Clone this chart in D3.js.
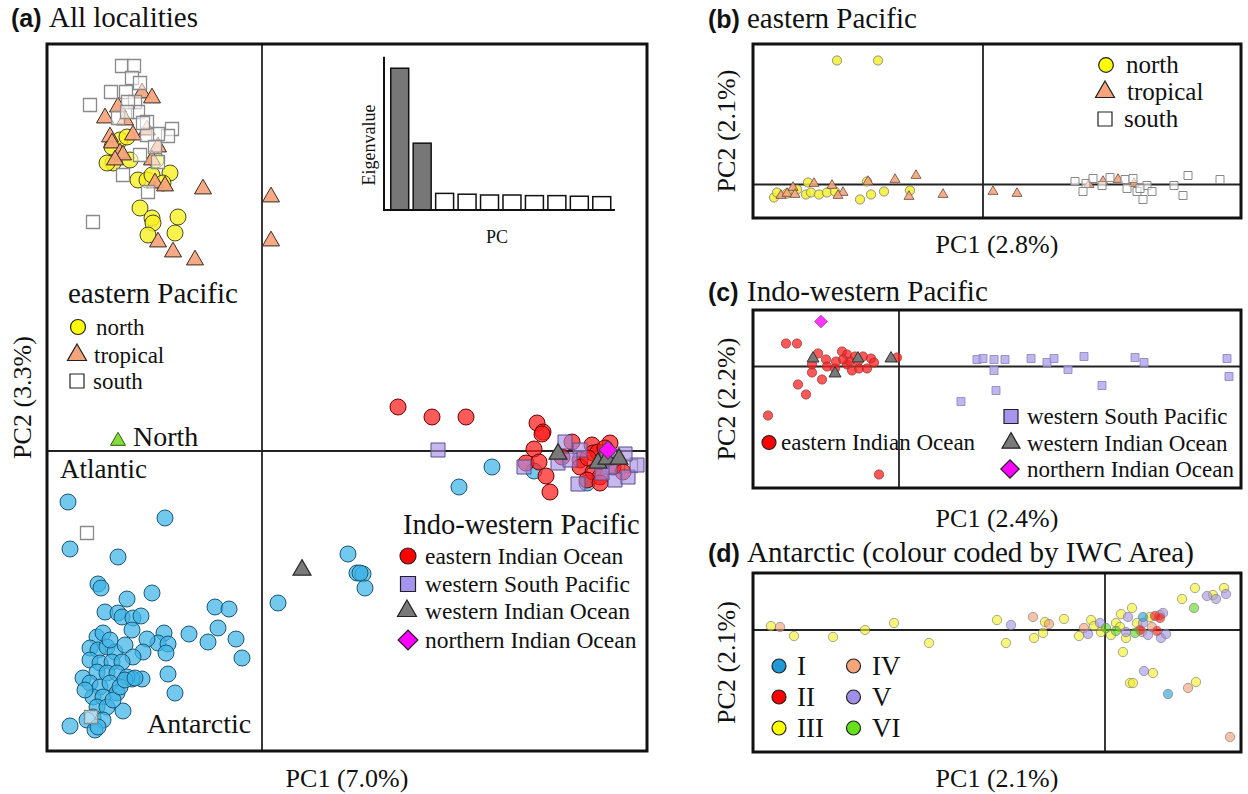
<!DOCTYPE html>
<html><head><meta charset="utf-8">
<script src="https://cdn.jsdelivr.net/npm/d3@7"></script>
<style>body{margin:0;background:#fff}</style>
</head><body><svg id="c" width="1248" height="794" style="display:block;background:#fff"></svg>
<script>
// ---------- DATA (PC scores) ----------
// Panel (a) All localities
const a_epNorth = [[-1.50,3.04],[-1.42,3.11],[-1.49,2.88],[-1.32,2.91],[-1.24,2.71],[-1.15,2.71],[-1.10,2.76],[-0.92,2.78],[-1.22,2.43],[-1.10,2.33],[-1.09,2.28],[-0.84,2.34],[-1.14,2.16],[-0.87,2.18],[-1.55,2.88],[-1.35,3.14],[-1.06,2.91],[-0.99,2.68]];
const a_epTropical = [[-1.20,3.58],[-1.10,3.53],[-1.44,3.44],[-1.57,3.33],[-1.37,3.31],[-1.29,3.16],[-1.52,3.14],[-1.50,3.08],[-1.42,2.98],[-1.39,2.96],[-1.47,2.91],[-1.04,3.04],[-1.10,2.91],[-1.07,2.68],[-0.97,2.65],[-0.59,2.62],[-1.04,2.09],[-0.89,1.99],[-0.67,1.91],[-1.15,3.21],[0.09,2.54],[0.09,2.10]];
const a_epSouth = [[-1.40,3.85],[-1.28,3.85],[-1.30,3.73],[-1.22,3.68],[-1.51,3.59],[-1.36,3.59],[-1.72,3.46],[-1.27,3.49],[-1.24,3.39],[-1.44,3.33],[-1.15,3.29],[-0.90,3.22],[-0.94,3.15],[-1.04,3.17],[-1.15,3.16],[-1.22,2.96],[-1.04,2.89],[-1.39,2.76],[-1.14,2.59],[-1.69,2.29],[-1.34,3.49],[-1.19,3.28],[-1.35,3.39],[-1.07,3.04],[-1.75,-0.82],[-1.71,-2.66],[3.69,-0.15]];
const a_northAtlantic = [[-1.44,0.10]];
const a_antarctic = [[-1.94,-0.51],[-0.97,-0.67],[-1.92,-0.98],[-1.44,-1.06],[-1.64,-1.33],[-1.61,-1.37],[-1.10,-1.42],[-1.35,-1.48],[-1.57,-1.61],[-1.44,-1.62],[-1.40,-1.66],[-1.29,-1.67],[-1.21,-1.65],[-1.30,-1.79],[-0.47,-1.56],[-0.33,-1.58],[-0.44,-1.77],[-0.54,-1.91],[-0.26,-1.88],[-0.20,-2.07],[-0.73,-1.83],[-0.98,-1.82],[-1.04,-1.92],[-0.94,-1.93],[-0.96,-2.02],[-1.15,-1.88],[-1.19,-2.01],[-0.94,-2.23],[-0.87,-2.42],[-1.20,-2.28],[-1.30,-2.28],[-1.39,-2.60],[-1.92,-2.75],[-1.79,-2.27],[-1.65,-1.86],[-1.59,-1.82],[-1.72,-1.97],[-1.64,-1.99],[-1.55,-1.96],[-1.47,-2.01],[-1.37,-1.94],[-1.29,-2.06],[-1.72,-2.09],[-1.62,-2.12],[-1.50,-2.11],[-1.40,-2.11],[-1.65,-2.21],[-1.55,-2.22],[-1.45,-2.22],[-1.35,-2.26],[-1.72,-2.32],[-1.62,-2.36],[-1.52,-2.32],[-1.69,-2.46],[-1.59,-2.46],[-1.45,-2.42],[-1.65,-2.56],[-1.55,-2.56],[-1.69,-2.66],[-1.59,-2.69],[-1.75,-2.69],[-1.67,-2.79],[-1.64,-2.76],[-1.49,-2.49],[-1.42,-2.36],[-1.37,-2.29],[-1.27,-2.27],[-1.77,-2.39],[-1.52,-1.89],[0.86,-1.03],[0.95,-1.22],[1.01,-1.23],[0.98,-1.22],[1.03,-1.37],[0.16,-1.52],[2.30,-0.16],[1.97,-0.36],[2.72,-0.20],[3.25,-0.32]];
const a_eIndian = [[1.36,0.44],[1.70,0.34],[2.04,0.34],[2.75,0.28],[2.81,0.19],[2.80,0.17],[2.72,0.02],[2.64,-0.12],[2.77,-0.11],[2.84,-0.25],[2.88,-0.41],[3.10,0.09],[3.30,0.06],[3.31,-0.02],[3.18,-0.09],[3.18,-0.16],[3.31,-0.21],[3.38,-0.26],[3.48,0.08],[3.36,-0.01],[3.51,-0.16],[3.25,-0.29],[3.38,-0.32],[3.61,-0.21],[3.00,-0.06],[3.43,0.03],[3.26,-0.07]];
const a_wSouthPacific = [[1.76,0.01],[2.62,-0.16],[2.96,-0.12],[3.03,0.09],[3.18,0.01],[3.08,-0.09],[3.16,-0.33],[3.53,-0.29],[3.66,-0.26],[3.75,-0.14],[3.63,-0.03],[3.48,-0.16],[3.40,-0.22],[3.45,-0.07]];
const a_wIndian = [[0.40,-1.19],[2.96,-0.03],[3.36,-0.12],[3.45,-0.08],[3.57,-0.08]];
const a_nIndian = [[3.46,0.01]];

// Inset scree plot
const screePCs = ["PC1","PC2","PC3","PC4","PC5","PC6","PC7","PC8","PC9","PC10"];
const screeEigen = [7.0,3.3,0.82,0.78,0.74,0.74,0.71,0.71,0.68,0.66];

// Panel (b) eastern Pacific
const b_north = [[-1.46,1.24],[-1.05,1.24],[-2.09,-0.13],[-2.06,-0.08],[-1.75,0.02],[-1.77,-0.10],[-1.72,-0.08],[-1.64,-0.10],[-1.56,-0.08],[-1.48,-0.07],[-1.23,-0.15],[-1.12,-0.10],[-0.99,-0.07],[-1.16,0.03],[-0.73,-0.06],[-1.86,-0.05],[-1.96,-0.09]];
const b_tropical = [[-2.02,-0.11],[-1.96,-0.09],[-1.90,-0.03],[-1.88,-0.10],[-1.69,0.01],[-1.51,-0.01],[-1.40,-0.08],[-1.45,-0.11],[-1.15,0.03],[-0.88,0.05],[-0.67,0.09],[-0.74,-0.12],[-0.40,-0.10],[0.10,-0.07],[0.34,-0.09],[1.06,0.00],[1.20,0.03],[1.35,0.05],[1.51,0.01]];
const b_south = [[0.92,0.03],[1.00,-0.07],[1.03,0.01],[1.10,0.06],[1.19,-0.01],[1.27,0.07],[1.42,0.05],[1.44,-0.04],[1.50,0.06],[1.54,-0.07],[1.60,-0.15],[1.64,-0.01],[1.69,-0.07],[1.91,-0.01],[2.00,-0.11],[2.05,0.09],[2.37,0.05],[1.57,-0.04]];

// Panel (c) Indo-western Pacific
const c_eIndian = [[-1.13,0.23],[-1.02,0.23],[-0.81,0.13],[-0.87,0.02],[-0.87,-0.06],[-0.77,-0.13],[-0.73,0.07],[-0.72,0.00],[-0.63,0.05],[-0.57,0.15],[-0.52,0.12],[-0.52,0.02],[-0.47,-0.04],[-0.44,0.10],[-0.40,-0.02],[-0.36,0.10],[-0.32,-0.02],[-0.28,0.08],[-0.25,0.04],[-0.02,0.09],[-1.01,-0.18],[-0.93,-0.28],[-1.31,-0.49],[-0.20,-1.08],[-0.49,0.05],[-0.41,0.05],[-0.56,0.07],[-0.64,-0.02]];
const c_wSouthPacific = [[0.78,0.07],[0.84,0.08],[0.95,0.07],[1.06,0.07],[1.32,0.08],[1.48,0.04],[1.55,0.08],[1.85,0.10],[2.36,0.09],[2.45,0.04],[3.28,0.08],[3.30,-0.10],[0.95,-0.04],[1.69,-0.03],[0.97,-0.24],[2.03,-0.19],[0.62,-0.35]];
const c_wIndian = [[-0.86,0.08],[-0.64,-0.07],[-0.41,0.08],[-0.08,0.08]];
const c_nIndian = [[-0.78,0.45]];

// Panel (d) Antarctic by IWC Area
const d_I = [[0.63,-0.64],[0.38,0.13]];
const d_II = [[0.50,0.14],[0.52,-0.01],[0.35,0.00],[0.55,0.12]];
const d_III = [[-3.34,0.04],[-3.11,-0.06],[-2.72,-0.07],[-2.40,0.00],[-2.11,0.07],[-1.76,-0.13],[-1.08,0.10],[-0.99,-0.13],[-0.71,-0.08],[-0.62,-0.03],[-0.60,0.08],[-0.41,0.11],[-0.26,-0.06],[-0.14,0.10],[-0.11,0.04],[-0.04,-0.02],[0.06,-0.05],[0.11,0.07],[0.16,0.16],[0.21,-0.08],[0.27,0.22],[0.18,-0.22],[0.25,-0.53],[0.28,-0.53],[0.48,-0.43],[0.91,-0.52],[0.77,0.31],[0.90,0.42],[1.08,0.35],[1.19,0.42],[0.45,0.13],[0.32,0.07],[0.15,0.03]];
const d_IV = [[-3.25,0.03],[-0.72,0.13],[-0.56,0.06],[-0.21,0.02],[0.37,-0.02],[0.47,0.03],[0.55,0.15],[0.83,-0.58],[1.25,-1.07]];
const d_V = [[-0.94,0.05],[-0.17,-0.04],[-0.05,0.07],[0.23,0.13],[0.38,0.07],[0.43,-0.05],[0.56,-0.08],[0.61,-0.04],[0.58,0.17],[0.39,-0.41],[1.02,0.34],[1.11,0.31],[1.21,0.36],[0.21,-0.02]];
const d_VI = [[0.01,0.02],[0.11,-0.01],[0.30,-0.03],[0.89,0.22]];

// ---------- DRAWING ----------
const svg = d3.select("#c");
const SERIF = "'Liberation Serif','Times New Roman',Times,serif";
const SANS = "'Liberation Sans',Arial,Helvetica,sans-serif";
const circ = r => Math.PI*r*r, tri = s => s*s*Math.sqrt(3)/4, sq = s => s*s;

function plot(g, data, xs, ys, st){
  g.selectAll(null).data(data).enter().append("path")
    .attr("d", d3.symbol().type(st.type).size(st.size))
    .attr("transform", d => `translate(${xs(d[0])},${ys(d[1])})` + (st.rot ? " rotate(45)" : ""))
    .attr("fill", st.fill).attr("fill-opacity", st.fo == null ? 1 : st.fo)
    .attr("stroke", st.stroke).attr("stroke-width", st.sw == null ? 1 : st.sw)
    .attr("stroke-opacity", st.so == null ? 1 : st.so);
}
function legendItem(g, x, y, st, label, tx, fs){
  g.append("path").attr("d", d3.symbol().type(st.type).size(st.size)())
    .attr("transform", `translate(${x},${y})` + (st.rot ? " rotate(45)" : ""))
    .attr("fill", st.fill).attr("stroke", st.stroke).attr("stroke-width", st.sw == null ? 1.2 : st.sw);
  g.append("text").attr("x", tx).attr("y", y).attr("dy", "0.33em")
    .attr("font-family", SERIF).attr("font-size", fs).attr("fill", "#111").text(label);
}
function frame(xs, ys){
  const [x0,x1] = xs.range(), [y0,y1] = ys.range();
  const g = svg.append("g");
  g.append("line").attr("x1", xs(0)).attr("x2", xs(0)).attr("y1", y0).attr("y2", y1).attr("stroke", "#222").attr("stroke-width", 1.8);
  g.append("line").attr("x1", x0).attr("x2", x1).attr("y1", ys(0)).attr("y2", ys(0)).attr("stroke", "#222").attr("stroke-width", 1.8);
  return g;
}
function border(xs, ys){
  const [x0,x1] = xs.range(), [y0,y1] = ys.range();
  svg.append("rect").attr("x", x0).attr("y", y1).attr("width", x1-x0).attr("height", y0-y1)
    .attr("fill", "none").attr("stroke", "#111").attr("stroke-width", 3);
}
function title(x, tx, y, tag, txt){
  svg.append("text").attr("x", x).attr("y", y).attr("fill", "#111")
    .attr("font-family", SANS).attr("font-weight", "bold").attr("font-size", 25).text(tag);
  svg.append("text").attr("x", tx).attr("y", y).attr("fill", "#111")
    .attr("font-family", SERIF).attr("font-size", 29).text(txt);
}
function axisLabels(xs, ys, xl, yl, xly, ylx){
  const [x0,x1] = xs.range(), [y0,y1] = ys.range();
  svg.append("text").attr("x", (x0+x1)/2).attr("y", xly).attr("text-anchor", "middle")
    .attr("font-family", SERIF).attr("font-size", 26).attr("fill", "#111").text(xl);
  svg.append("text").attr("transform", `translate(${ylx},${(y0+y1)/2}) rotate(-90)`).attr("text-anchor", "middle")
    .attr("font-family", SERIF).attr("font-size", 26).attr("fill", "#111").text(yl);
}

// Styles
const S = {
  yellowA: {type: d3.symbolCircle, size: circ(8), fill: "#f7f020", fo: 0.8, stroke: "#4a4a20", sw: 1},
  orangeA: {type: d3.symbolTriangle, size: tri(17), fill: "#f5a47c", fo: 0.92, stroke: "#3a2a20", sw: 1},
  whiteA:  {type: d3.symbolSquare, size: sq(13), fill: "#ffffff", fo: 0.55, stroke: "#8a8a8a", sw: 1.3},
  blueA:   {type: d3.symbolCircle, size: circ(8), fill: "#3db4e6", fo: 0.72, stroke: "#1d5675", sw: 1},
  redA:    {type: d3.symbolCircle, size: circ(8), fill: "#ff1c1c", fo: 0.72, stroke: "#6e0000", sw: 1},
  purpA:   {type: d3.symbolSquare, size: sq(14), fill: "#a38de2", fo: 0.62, stroke: "#5a4c8e", sw: 1},
  greyA:   {type: d3.symbolTriangle, size: tri(18), fill: "#7a7a7a", fo: 1, stroke: "#2a2a2a", sw: 1.2},
  magA:    {type: d3.symbolSquare, size: sq(13), rot: true, fill: "#ff10ff", fo: 1, stroke: "#444", sw: 1},
  greenA:  {type: d3.symbolTriangle, size: tri(15), fill: "#86dc3a", fo: 1, stroke: "#2e5a12", sw: 1}
};

// ===== Panel (a) =====
const xA = d3.scaleLinear().domain([-2.15, 3.85]).range([47, 647]);
const yA = d3.scaleLinear().domain([-3.0, 4.07]).range([751, 44]);
const gA = frame(xA, yA);
plot(gA, a_antarctic, xA, yA, S.blueA);
plot(gA, a_epNorth, xA, yA, S.yellowA);
plot(gA, a_epTropical, xA, yA, S.orangeA);
plot(gA, a_epSouth, xA, yA, S.whiteA);
plot(gA, a_northAtlantic, xA, yA, S.greenA);
plot(gA, a_eIndian, xA, yA, S.redA);
plot(gA, a_wSouthPacific, xA, yA, S.purpA);
plot(gA, a_wIndian, xA, yA, S.greyA);
plot(gA, a_nIndian, xA, yA, S.magA);
border(xA, yA);
title(11, 49, 27, "(a)", "All localities");
axisLabels(xA, yA, "PC1 (7.0%)", "PC2 (3.3%)", 787, 31);

// Inset scree plot
const xS = d3.scaleBand().domain(screePCs).range([388.5, 613]).paddingInner(0.2).paddingOuter(0.1);
const yS = d3.scaleLinear().domain([0, 7.57]).range([210, 56.7]);
const gS = svg.append("g");
gS.selectAll(null).data(screeEigen).enter().append("rect")
  .attr("x", (d,i) => xS(screePCs[i])).attr("width", xS.bandwidth())
  .attr("y", d => yS(d)).attr("height", d => yS(0) - yS(d))
  .attr("fill", (d,i) => i < 2 ? "#777" : "#fff").attr("stroke", "#111").attr("stroke-width", 1.5);
gS.append("line").attr("x1", 384).attr("x2", 384).attr("y1", yS.range()[1]).attr("y2", yS(0)+1).attr("stroke", "#111").attr("stroke-width", 2);
gS.append("line").attr("x1", 383).attr("x2", 615).attr("y1", yS(0)).attr("y2", yS(0)).attr("stroke", "#111").attr("stroke-width", 2);
gS.append("text").attr("transform", "translate(375,145) rotate(-90)").attr("text-anchor", "middle")
  .attr("font-family", SERIF).attr("font-size", 18).attr("fill", "#111").text("Eigenvalue");
gS.append("text").attr("x", 497).attr("y", 243).attr("text-anchor", "middle")
  .attr("font-family", SERIF).attr("font-size", 18).attr("fill", "#111").text("PC");

// Panel (a) legends and labels
const lA = svg.append("g");
lA.append("text").attr("x", 68).attr("y", 303).attr("font-family", SERIF).attr("font-size", 29).attr("fill", "#111").text("eastern Pacific");
legendItem(lA, 78, 327, {type: d3.symbolCircle, size: circ(7.5), fill: "#ffff00", stroke: "#222"}, "north", 96, 23);
legendItem(lA, 77, 355, {type: d3.symbolTriangle, size: tri(19), fill: "#f5a47c", stroke: "#222"}, "tropical", 94, 23);
legendItem(lA, 77, 381, {type: d3.symbolSquare, size: sq(14), fill: "#fff", stroke: "#222"}, "south", 93, 23);
lA.append("text").attr("x", 133).attr("y", 446).attr("font-family", SERIF).attr("font-size", 28).attr("fill", "#111").text("North");
lA.append("text").attr("x", 60).attr("y", 478).attr("font-family", SERIF).attr("font-size", 27).attr("fill", "#111").text("Atlantic");
lA.append("text").attr("x", 147).attr("y", 733).attr("font-family", SERIF).attr("font-size", 28).attr("fill", "#111").text("Antarctic");
lA.append("text").attr("x", 403).attr("y", 534).attr("font-family", SERIF).attr("font-size", 28.5).attr("fill", "#111").text("Indo-western Pacific");
legendItem(lA, 408, 556, {type: d3.symbolCircle, size: circ(8), fill: "#ff0000", stroke: "#222"}, "eastern Indian Ocean", 425, 23.5);
legendItem(lA, 408, 584, {type: d3.symbolSquare, size: sq(15), fill: "#a595ee", stroke: "#222"}, "western South Pacific", 425, 23.5);
legendItem(lA, 407, 611, {type: d3.symbolTriangle, size: tri(19), fill: "#7a7a7a", stroke: "#222"}, "western Indian Ocean", 425, 23.5);
legendItem(lA, 408, 640, {type: d3.symbolSquare, size: sq(14), rot: true, fill: "#ff00ff", stroke: "#222"}, "northern Indian Ocean", 425, 23.5);

// ===== Panel (b) =====
const xB = d3.scaleLinear().domain([-2.30, 2.58]).range([753, 1241]);
const yB = d3.scaleLinear().domain([-0.335, 1.405]).range([218, 44]);
const gB = frame(xB, yB);
plot(gB, b_north, xB, yB, {type: d3.symbolCircle, size: circ(4.6), fill: "#f5f030", fo: 0.85, stroke: "#777", sw: 0.8});
plot(gB, b_tropical, xB, yB, {type: d3.symbolTriangle, size: tri(10), fill: "#f5a47c", fo: 0.9, stroke: "#6a4a3a", sw: 0.8});
plot(gB, b_south, xB, yB, {type: d3.symbolSquare, size: sq(8), fill: "#fff", fo: 0.6, stroke: "#888", sw: 1});
border(xB, yB);
title(708, 747, 28, "(b)", "eastern Pacific");
axisLabels(xB, yB, "PC1 (2.8%)", "PC2 (2.1%)", 253, 735);
legendItem(gB, 1106, 65, {type: d3.symbolCircle, size: circ(7.3), fill: "#ffff00", stroke: "#222"}, "north", 1126, 25);
legendItem(gB, 1105, 92, {type: d3.symbolTriangle, size: tri(19), fill: "#f5a47c", stroke: "#222"}, "tropical", 1127, 25);
legendItem(gB, 1105, 119, {type: d3.symbolSquare, size: sq(14), fill: "#fff", stroke: "#222"}, "south", 1124, 25);

// ===== Panel (c) =====
const xC = d3.scaleLinear().domain([-1.46, 3.42]).range([753, 1241]);
const yC = d3.scaleLinear().domain([-1.215, 0.565]).range([488, 310]);
const gC = frame(xC, yC);
plot(gC, c_eIndian, xC, yC, {type: d3.symbolCircle, size: circ(4.6), fill: "#ff2020", fo: 0.75, stroke: "#993333", sw: 0.8});
plot(gC, c_wSouthPacific, xC, yC, {type: d3.symbolSquare, size: sq(8), fill: "#b0a4ea", fo: 0.8, stroke: "#8a7fc0", sw: 0.8});
plot(gC, c_wIndian, xC, yC, {type: d3.symbolTriangle, size: tri(12), fill: "#7a7a7a", fo: 1, stroke: "#333", sw: 1});
plot(gC, c_nIndian, xC, yC, {type: d3.symbolSquare, size: sq(9), rot: true, fill: "#ff20ff", fo: 0.9, stroke: "#a040a0", sw: 0.8});
border(xC, yC);
title(708, 747, 301, "(c)", "Indo-western Pacific");
axisLabels(xC, yC, "PC1 (2.4%)", "PC2 (2.2%)", 527, 735);
legendItem(gC, 769, 442.5, {type: d3.symbolCircle, size: circ(7), fill: "#ff0000", stroke: "#222"}, "eastern Indian Ocean", 781, 23);
legendItem(gC, 1011, 416.5, {type: d3.symbolSquare, size: sq(14), fill: "#a595ee", stroke: "#222"}, "western South Pacific", 1027, 23);
legendItem(gC, 1011, 443, {type: d3.symbolTriangle, size: tri(18), fill: "#7a7a7a", stroke: "#222"}, "western Indian Ocean", 1027, 23);
legendItem(gC, 1010, 469, {type: d3.symbolSquare, size: sq(13), rot: true, fill: "#ff00ff", stroke: "#222"}, "northern Indian Ocean", 1027, 23);

// ===== Panel (d) =====
const xD = d3.scaleLinear().domain([-3.52, 1.36]).range([753, 1241]);
const yD = d3.scaleLinear().domain([-1.22, 0.57]).range([752, 573]);
const gD = frame(xD, yD);
const dStyle = c => ({type: d3.symbolCircle, size: circ(4.7), fill: c, fo: 0.6, stroke: "#777", sw: 0.8, so: 0.8});
plot(gD, d_III, xD, yD, dStyle("#f2f020"));
plot(gD, d_IV, xD, yD, dStyle("#f09a6e"));
plot(gD, d_V, xD, yD, dStyle("#a290e6"));
plot(gD, d_I, xD, yD, dStyle("#1f9ad6"));
plot(gD, d_II, xD, yD, dStyle("#ff1010"));
plot(gD, d_VI, xD, yD, dStyle("#5cd41a"));
border(xD, yD);
title(708, 747, 562, "(d)", "Antarctic (colour coded by IWC Area)");
axisLabels(xD, yD, "PC1 (2.1%)", "PC2 (2.1%)", 787, 735);
const dLeg = [["I","#1f9ad6"],["II","#ff0000"],["III","#ffff00"],["IV","#f4a57a"],["V","#9f8fe8"],["VI","#66e01a"]];
dLeg.forEach((d,i) => {
  const col = Math.floor(i/3), row = i%3;
  legendItem(gD, 779 + col*74.5, 666 + row*31, {type: d3.symbolCircle, size: circ(7), fill: d[1], stroke: "#222"}, d[0], 797 + col*75, 27);
});
</script></body></html>
